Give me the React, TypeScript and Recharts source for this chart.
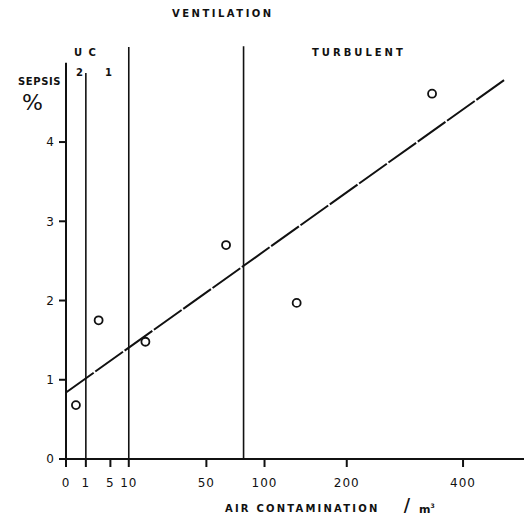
import React from 'react';
import { ScatterChart, Scatter, XAxis, YAxis } from 'recharts';

// measured points: air contamination (per m3) vs sepsis %
const contamination = [0.25, 2.7, 16, 65, 135, 340];
const sepsis = [0.68, 1.75, 1.48, 2.7, 1.97, 4.61];

// fitted line end points
const fitX = [0, 489];
const fitY = [0.84, 4.79];

// ventilation boundaries (x) and how high each line is drawn (y)
const boundaryX = [0, 1, 10, 80];
const boundaryTop = [5.0, 4.87, 5.2, 5.21];

const xTicks = [0, 1, 5, 10, 50, 100, 200, 400];
const yTicks = [0, 1, 2, 3, 4];
const xMax = 551;

const points = contamination.map((x, i) => ({ x, y: sepsis[i] }));
const fitLine = fitX.map((x, i) => ({ x, y: fitY[i] }));
const baseLine = [
  { x: 0, y: 0 },
  { x: xMax, y: 0 },
];

const ink = '#111';
const font = '"DejaVu Sans", sans-serif';

const Ring = (props: any) => (
  <circle cx={props.cx} cy={props.cy} r={4} fill="#fff" stroke={ink} strokeWidth={1.8} />
);
const NoDot = () => <g />;

const lab = (left: number, top: number, text: React.ReactNode, extra: React.CSSProperties = {}) => (
  <div
    style={{
      position: 'absolute',
      left,
      top,
      fontFamily: font,
      fontWeight: 'bold',
      fontSize: 10,
      letterSpacing: 2.5,
      color: ink,
      whiteSpace: 'nowrap',
      lineHeight: 1,
      ...extra,
    }}
  >
    {text}
  </div>
);

export default function App() {
  return (
    <div style={{ position: 'relative', width: 524, height: 505 }}>
      <style>{'html,body{overflow:hidden}'}</style>
      <ScatterChart width={524} height={505} margin={{ top: 35, right: 0, bottom: 24, left: 0 }}>
        <XAxis
          type="number"
          dataKey="x"
          scale="sqrt"
          domain={[0, xMax]}
          ticks={xTicks}
          interval={0}
          height={30}
          axisLine={false}
          tickLine={{ stroke: ink, strokeWidth: 2 }}
          tickSize={8}
          tickMargin={11}
          tick={{ fill: ink, fontSize: 12, fontFamily: font, letterSpacing: 1 }}
        />
        <YAxis
          type="number"
          dataKey="y"
          domain={[0, 5.25]}
          ticks={yTicks}
          interval={0}
          width={58}
          axisLine={false}
          tickLine={{ stroke: ink, strokeWidth: 2 }}
          tickSize={7}
          tickMargin={5}
          tick={{ fill: ink, fontSize: 12, fontFamily: font }}
        />
        <Scatter data={baseLine} line={{ stroke: ink, strokeWidth: 2 }} shape={NoDot} isAnimationActive={false} />
        {boundaryX.map((bx, i) => (
          <Scatter
            key={bx}
            data={[
              { x: bx, y: 0 },
              { x: bx, y: boundaryTop[i] },
            ]}
            line={{ stroke: ink, strokeWidth: i === 0 ? 2 : 1.6 }}
            shape={NoDot}
            isAnimationActive={false}
          />
        ))}
        <Scatter
          data={fitLine}
          line={{ stroke: ink, strokeWidth: 2, strokeDasharray: '34 2' }}
          shape={NoDot}
          isAnimationActive={false}
        />
        <Scatter data={points} shape={Ring} isAnimationActive={false} />
      </ScatterChart>

      {lab(164, 1, 'VENTILATION')}
      {lab(66, 40, 'U C', { letterSpacing: 1.5 })}
      {lab(68, 60, '2', { letterSpacing: 0 })}
      {lab(97, 60, '1', { letterSpacing: 0 })}
      {lab(304, 40, 'TURBULENT', { letterSpacing: 3 })}
      {lab(10, 69, 'SEPSIS', { letterSpacing: 0.6 })}
      {lab(14, 84, '%', { fontSize: 22, fontWeight: 'normal', letterSpacing: 0 })}
      {lab(217, 496, 'AIR  CONTAMINATION', { letterSpacing: 2.2 })}
      {lab(395, 489, '/', { fontSize: 21, fontWeight: 'normal', letterSpacing: 0 })}
      {lab(411, 495, <span>m<sup style={{ fontSize: 6 }}>3</sup></span>, { fontSize: 11, letterSpacing: 0 })}
    </div>
  );
}
